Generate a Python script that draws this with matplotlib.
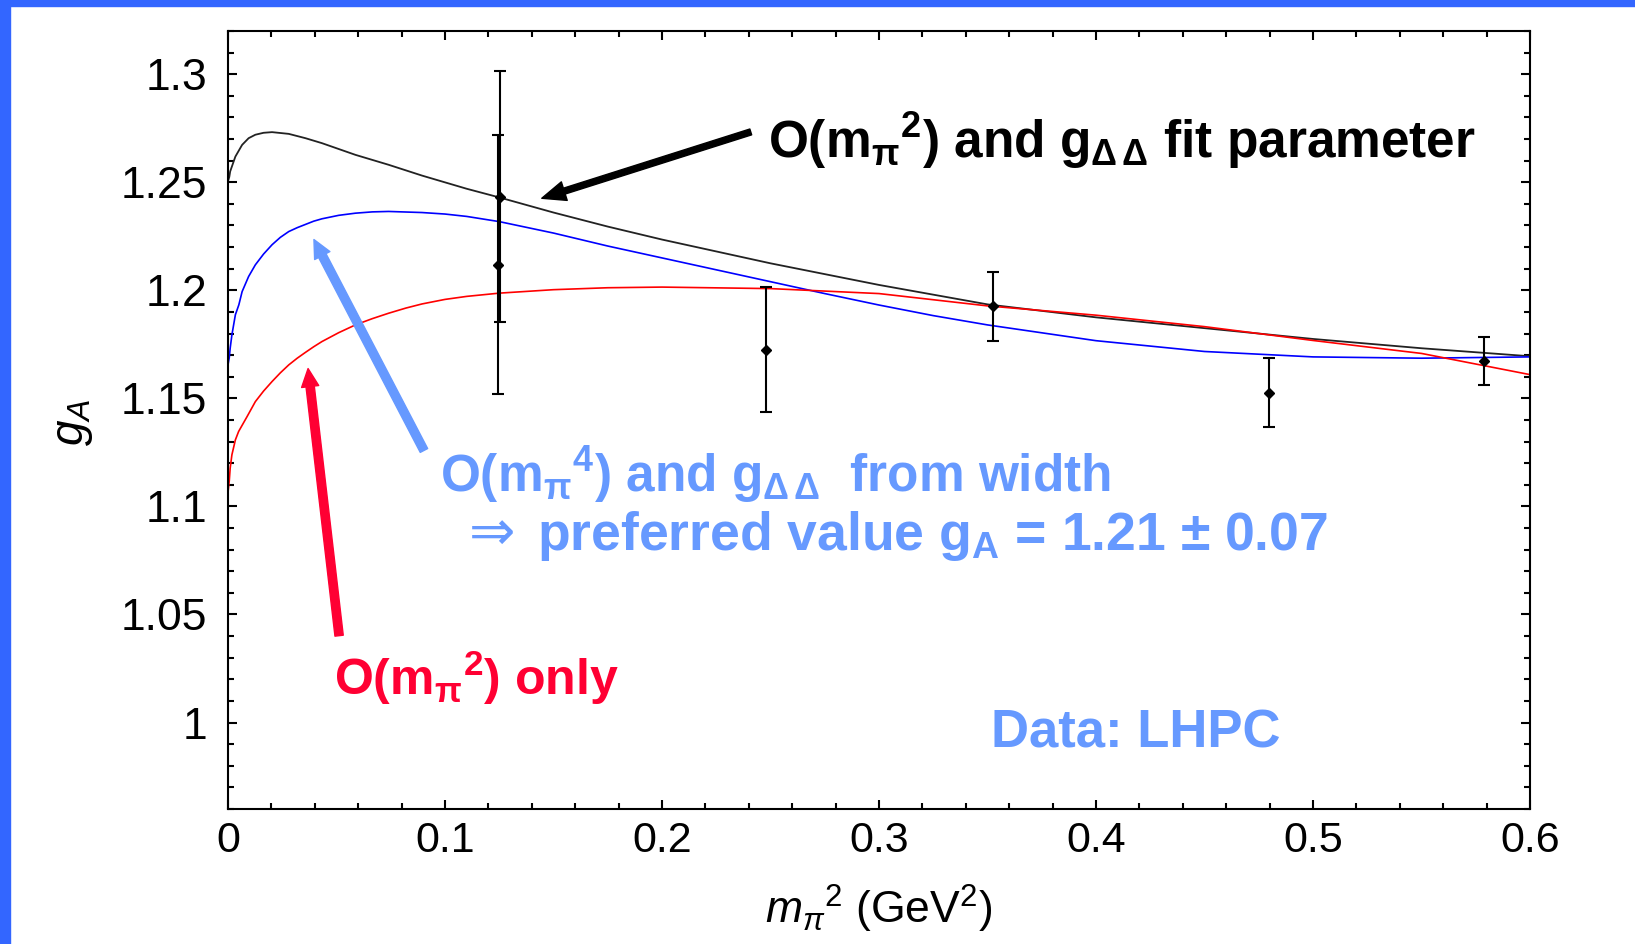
import matplotlib
matplotlib.use('Agg')
import matplotlib.pyplot as plt
from matplotlib.patches import Rectangle
from matplotlib.ticker import MultipleLocator

plt.rcParams['font.family'] = ['Liberation Sans', 'DejaVu Sans']
plt.rcParams['mathtext.fontset'] = 'custom'
plt.rcParams['mathtext.rm'] = 'Liberation Sans'
plt.rcParams['mathtext.it'] = 'Liberation Sans:italic'
plt.rcParams['mathtext.bf'] = 'Liberation Sans:bold'

# LHPC lattice data (two points overlap near 0.125)
pt_x = [0.1253, 0.1245, 0.248, 0.3524, 0.4797, 0.5787]
pt_y = [1.2434, 1.2118, 1.1725, 1.1927, 1.1527, 1.1672]
pt_err = [0.058, 0.060, 0.029, 0.016, 0.016, 0.011]

# O(m_pi^2) with g_DD as fit parameter
black_x = [0, 0.0006, 0.001, 0.0018, 0.0034, 0.0065, 0.0095, 0.0126, 0.0164, 0.0203, 0.028, 0.0357,
           0.0433, 0.0587, 0.074, 0.0894, 0.11, 0.125, 0.15, 0.175, 0.2, 0.25, 0.3, 0.35, 0.4,
           0.45, 0.5, 0.55, 0.6]
black_y = [1.2505, 1.2525, 1.2550, 1.2573, 1.2619, 1.2673, 1.2704, 1.2720, 1.2729, 1.2732, 1.2724, 1.2704,
           1.2681, 1.2627, 1.2581, 1.2531, 1.2470, 1.2430, 1.2360, 1.2295, 1.2235, 1.2125, 1.2025, 1.1935, 1.1875,
           1.1825, 1.1775, 1.1732, 1.1695]

# O(m_pi^4) with g_DD from width
blue_x = [0, 0.0006, 0.001, 0.0018, 0.0034, 0.005, 0.0065, 0.0095, 0.0126, 0.0164, 0.0203, 0.0241, 0.028,
          0.0319, 0.0357, 0.0395, 0.0433, 0.051, 0.0587, 0.0665, 0.074, 0.0894, 0.1, 0.11, 0.125, 0.15,
          0.175, 0.2, 0.225, 0.25, 0.275, 0.3, 0.325, 0.35, 0.4, 0.45, 0.5, 0.55, 0.6]
blue_y = [1.1655, 1.1690, 1.1732, 1.1794, 1.1887, 1.1933, 1.1994, 1.2064, 1.2118, 1.2168, 1.2211, 1.2245, 1.2272,
          1.2290, 1.2305, 1.2320, 1.2331, 1.2347, 1.2357, 1.2363, 1.2365, 1.2360, 1.2353, 1.2342, 1.2318, 1.2265,
          1.2205, 1.2150, 1.2095, 1.2040, 1.1985, 1.1932, 1.1883, 1.1840, 1.1767, 1.1717, 1.1692, 1.1686, 1.1692]

# O(m_pi^2) only
red_x = [0, 0.0006, 0.001, 0.0018, 0.0034, 0.0049, 0.0088, 0.0126, 0.0164, 0.0203, 0.0241, 0.028, 0.0319,
         0.0357, 0.0395, 0.0433, 0.051, 0.0587, 0.0665, 0.074, 0.082, 0.0894, 0.1, 0.11, 0.125, 0.15,
         0.175, 0.2, 0.25, 0.3, 0.35, 0.4, 0.45, 0.5, 0.55, 0.6]
red_y = [1.1065, 1.1120, 1.1177, 1.1239, 1.1308, 1.1347, 1.1416, 1.1485, 1.1534, 1.1578, 1.1618, 1.1655, 1.1686,
         1.1713, 1.1739, 1.1763, 1.1804, 1.1840, 1.1869, 1.1894, 1.1918, 1.1937, 1.1958, 1.1972, 1.1987, 1.2003,
         1.2012, 1.2015, 1.2008, 1.1985, 1.1928, 1.1885, 1.1832, 1.1768, 1.1708, 1.1610]

xticks = [0, 0.1, 0.2, 0.3, 0.4, 0.5, 0.6]
xlabels = ['0', '0.1', '0.2', '0.3', '0.4', '0.5', '0.6']
yticks = [1.0, 1.05, 1.1, 1.15, 1.2, 1.25, 1.3]
ylabels = ['1', '1.05', '1.1', '1.15', '1.2', '1.25', '1.3']

W, H = 1635, 944
fig = plt.figure(figsize=(W / 100, H / 100), dpi=100)
ax = fig.add_axes([228 / W, 1 - 809 / H, 1302 / W, 778 / H])

# slide frame
fig.patches.append(Rectangle((0, 1 - 6 / H), 1, 6 / H, transform=fig.transFigure, color='#3366ff'))
fig.patches.append(Rectangle((0, 0), 10 / W, 1, transform=fig.transFigure, color='#3366ff'))

ax.plot(black_x, black_y, color='#222222', lw=1.3)
ax.plot(blue_x, blue_y, color='#0000ff', lw=1.2)
ax.plot(red_x, red_y, color='#ff0000', lw=1.2)
ax.errorbar(pt_x, pt_y, yerr=pt_err, fmt='D', ms=5.5, color='black',
            elinewidth=1.5, capsize=4, capthick=1.5)

ax.set_xlim(0, 0.6)
ax.set_ylim(0.96, 1.32)
ax.set_xticks(xticks, xlabels)
ax.set_yticks(yticks, ylabels)
ax.xaxis.set_minor_locator(MultipleLocator(0.02))
ax.yaxis.set_minor_locator(MultipleLocator(0.01))
ax.tick_params(which='both', direction='in', top=True, right=True, width=1.5, labelsize=31)
ax.tick_params(axis='y', labelsize=32)
ax.tick_params(which='major', length=6.5)
ax.tick_params(which='minor', length=4.5)
ax.tick_params(axis='x', pad=9)
ax.tick_params(axis='y', pad=15)
for s in ax.spines.values():
    s.set_linewidth(1.5)

ax.set_xlabel(r'$m_\pi{}^2$ (GeV$^2$)', fontsize=32, va='center')
ax.xaxis.set_label_coords(0.5, -0.128)
ax.set_ylabel(r'$g_A$', fontsize=33, va='center')
ax.yaxis.set_label_coords(-0.119, 0.497)

# arrows (data coords)
ax.annotate('', xy=(0.1446, 1.2426), xytext=(0.2409, 1.2733),
            arrowprops=dict(arrowstyle='simple,head_length=0.85,head_width=0.7,tail_width=0.22',
                            color='black', shrinkA=0, shrinkB=0, mutation_scale=20))
ax.annotate('', xy=(0.0396, 1.2235), xytext=(0.0903, 1.1259),
            arrowprops=dict(arrowstyle='simple,head_length=0.65,head_width=0.62,tail_width=0.3',
                            color='#6699ff', shrinkA=0, shrinkB=0, mutation_scale=20))
ax.annotate('', xy=(0.0369, 1.1638), xytext=(0.0512, 1.0402),
            arrowprops=dict(arrowstyle='simple,head_length=0.65,head_width=0.62,tail_width=0.3',
                            color='#ff0033', shrinkA=0, shrinkB=0, mutation_scale=20))

def ftext(x, y, s, size, color):
    fig.text(x / W, 1 - y / H, s, va='baseline', ha='left', fontweight='bold',
             fontsize=size, color=color)

ftext(768, 158, r'O(m$_\mathbf{\pi}$$^\mathbf{2}$) and g$_\mathbf{\Delta\,\Delta}$ fit parameter', 37, 'black')
ftext(440, 492, r'O(m$_\mathbf{\pi}$$^\mathbf{4}$) and g$_\mathbf{\Delta\,\Delta}$  from width', 37, '#6699ff')
fig.text(469 / W, 1 - 550 / H, '\u21d2', va='baseline', ha='left', fontsize=40,
         color='#6699ff', family='DejaVu Sans')
ftext(537, 550, 'preferred value g$_\\mathbf{A}$ = 1.21 \u00b1 0.07', 38.5, '#6699ff')
ftext(334, 695, r'O(m$_\mathbf{\pi}$$^\mathbf{2}$) only', 36, '#ff0033')
ftext(991, 748, 'Data: LHPC', 38, '#6699ff')

fig.savefig('out.png', dpi=100)
